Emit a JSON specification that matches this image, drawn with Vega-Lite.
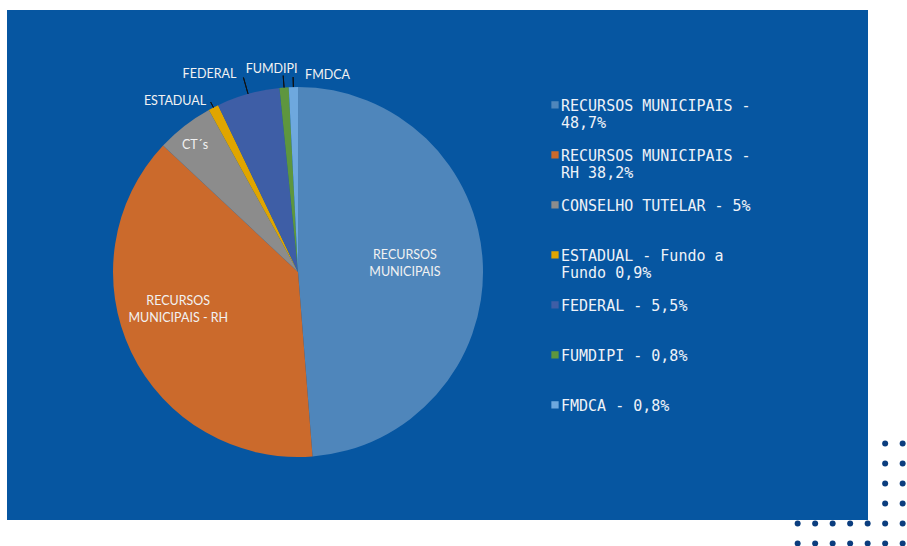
{
  "$schema": "https://vega.github.io/schema/vega-lite/v6.json",
  "width": 861,
  "height": 510,
  "padding": {"left": 7, "top": 10, "right": 39, "bottom": 26},
  "autosize": {"type": "none"},
  "background": "#ffffff",
  "config": {"view": {"fill": "#0656A1", "stroke": null}},
  "resolve": {"scale": {"x": "independent", "y": "independent"}},
  "layer": [
    {
      "data": {"values": [
        {"i": 1, "k": "MUN", "v": 48.7, "lg": "RECURSOS MUNICIPAIS -\n48,7%", "lbl": "RECURSOS\nMUNICIPAIS"},
        {"i": 2, "k": "RH", "v": 38.2, "lg": "RECURSOS MUNICIPAIS -\nRH 38,2%", "lbl": "RECURSOS\nMUNICIPAIS - RH"},
        {"i": 3, "k": "CT", "v": 5.0, "lg": "CONSELHO TUTELAR - 5%", "lbl": "CT´s"},
        {"i": 4, "k": "EST", "v": 0.9, "lg": "ESTADUAL - Fundo a\nFundo 0,9%", "lbl": "ESTADUAL"},
        {"i": 5, "k": "FED", "v": 5.5, "lg": "FEDERAL - 5,5%", "lbl": "FEDERAL"},
        {"i": 6, "k": "FUM", "v": 0.8, "lg": "FUMDIPI - 0,8%", "lbl": "FUMDIPI"},
        {"i": 7, "k": "FMD", "v": 0.8, "lg": "FMDCA - 0,8%", "lbl": "FMDCA"}
      ]},
      "encoding": {
        "theta": {"field": "v", "type": "quantitative", "stack": true},
        "order": {"field": "i", "type": "quantitative"},
        "x": {"datum": 0.338, "type": "quantitative", "scale": {"domain": [0, 1], "nice": false, "zero": false}, "axis": null},
        "y": {"datum": 0.5137, "type": "quantitative", "scale": {"domain": [0, 1], "nice": false, "zero": false, "reverse": true}, "axis": null}
      },
      "layer": [
        {
          "mark": {"type": "arc", "radius": 185},
          "encoding": {
            "color": {
              "field": "lg", "type": "nominal",
              "scale": {
                "domain": ["RECURSOS MUNICIPAIS -\n48,7%", "RECURSOS MUNICIPAIS -\nRH 38,2%", "CONSELHO TUTELAR - 5%", "ESTADUAL - Fundo a\nFundo 0,9%", "FEDERAL - 5,5%", "FUMDIPI - 0,8%", "FMDCA - 0,8%"],
                "range": ["#4F86BB", "#CB6A2C", "#8C8C8C", "#E0A500", "#3E5EA6", "#5E963E", "#6EA8DE"]
              },
              "legend": {
                "orient": "none", "legendX": 540.5, "legendY": 81, "title": null, "padding": 0,
                "symbolType": "M-1,0.75H1V2.75H-1Z", "symbolSize": 53, "symbolStrokeWidth": 0, "symbolOpacity": 1,
                "labelFont": "DejaVu Sans Mono", "labelFontSize": 15, "labelColor": "#EEF2F8",
                "labelBaseline": "top", "labelExpr": "split(datum.label, '\\n')", "labelLimit": 400, "labelOffset": -1.5,
                "rowPadding": 10, "gridAlign": "all"
              }
            }
          }
        },
        {
          "mark": {"type": "text", "radius": 107, "dy": -13, "align": "center", "baseline": "middle", "lineBreak": "\n", "lineHeight": 17.5, "font": "Lato", "fontSize": 12.5, "fill": "#F2F2F2"},
          "encoding": {"detail": {"field": "k"}, "text": {"condition": {"test": "datum.k == 'MUN'", "field": "lbl"}, "value": ""}}
        },
        {
          "mark": {"type": "text", "radius": 124, "dx": -8, "dy": -25, "align": "center", "baseline": "middle", "lineBreak": "\n", "lineHeight": 17.5, "font": "Lato", "fontSize": 12.5, "fill": "#F2F2F2"},
          "encoding": {"detail": {"field": "k"}, "text": {"condition": {"test": "datum.k == 'RH'", "field": "lbl"}, "value": ""}}
        },
        {
          "mark": {"type": "text", "radius": 163, "dx": -3, "dy": 2, "align": "center", "baseline": "middle", "font": "Lato", "fontSize": 12.5, "fill": "#F2F2F2"},
          "encoding": {"detail": {"field": "k"}, "text": {"condition": {"test": "datum.k == 'CT'", "field": "lbl"}, "value": ""}}
        },
        {
          "mark": {"type": "text", "radius": 192, "dx": -4, "align": "right", "baseline": "middle", "font": "Lato", "fontSize": 12.5, "fill": "#F2F2F2"},
          "encoding": {"detail": {"field": "k"}, "text": {"condition": {"test": "datum.k == 'EST'", "field": "lbl"}, "value": ""}}
        },
        {
          "mark": {"type": "text", "radius": 206, "dx": -6, "align": "right", "baseline": "middle", "font": "Lato", "fontSize": 12.5, "fill": "#F2F2F2"},
          "encoding": {"detail": {"field": "k"}, "text": {"condition": {"test": "datum.k == 'FED'", "field": "lbl"}, "value": ""}}
        },
        {
          "mark": {"type": "text", "radius": 204, "dx": -11, "align": "center", "baseline": "middle", "font": "Lato", "fontSize": 12.5, "fill": "#F2F2F2"},
          "encoding": {"detail": {"field": "k"}, "text": {"condition": {"test": "datum.k == 'FUM'", "field": "lbl"}, "value": ""}}
        },
        {
          "mark": {"type": "text", "radius": 197, "dx": 12, "align": "left", "baseline": "middle", "font": "Lato", "fontSize": 12.5, "fill": "#F2F2F2"},
          "encoding": {"detail": {"field": "k"}, "text": {"condition": {"test": "datum.k == 'FMD'", "field": "lbl"}, "value": ""}}
        },
        {
          "mark": {"type": "arc", "radius": 191, "radius2": 185, "padAngle": 0.6, "fillOpacity": 0, "stroke": "#111111", "strokeWidth": 1},
          "encoding": {"detail": {"field": "k"}, "strokeOpacity": {"condition": {"test": "datum.k == 'EST'", "value": 1}, "value": 0}}
        },
        {
          "mark": {"type": "arc", "radius": 202, "radius2": 185, "padAngle": 0.6, "fillOpacity": 0, "stroke": "#111111", "strokeWidth": 1},
          "encoding": {"detail": {"field": "k"}, "strokeOpacity": {"condition": {"test": "datum.k == 'FED'", "value": 1}, "value": 0}}
        },
        {
          "mark": {"type": "arc", "radius": 197, "radius2": 185, "padAngle": 0.6, "fillOpacity": 0, "stroke": "#111111", "strokeWidth": 1},
          "encoding": {"detail": {"field": "k"}, "strokeOpacity": {"condition": {"test": "datum.k == 'FUM'", "value": 1}, "value": 0}}
        },
        {
          "mark": {"type": "arc", "radius": 195, "radius2": 185, "padAngle": 0.6, "fillOpacity": 0, "stroke": "#111111", "strokeWidth": 1},
          "encoding": {"detail": {"field": "k"}, "strokeOpacity": {"condition": {"test": "datum.k == 'FMD'", "value": 1}, "value": 0}}
        }
      ]
    },
    {
      "data": {"values": [
        {"c": 5, "r": 0}, {"c": 6, "r": 0},
        {"c": 5, "r": 1}, {"c": 6, "r": 1},
        {"c": 5, "r": 2}, {"c": 6, "r": 2},
        {"c": 5, "r": 3}, {"c": 6, "r": 3},
        {"c": 0, "r": 4}, {"c": 1, "r": 4}, {"c": 2, "r": 4}, {"c": 3, "r": 4}, {"c": 4, "r": 4}, {"c": 5, "r": 4}, {"c": 6, "r": 4},
        {"c": 0, "r": 5}, {"c": 1, "r": 5}, {"c": 2, "r": 5}, {"c": 3, "r": 5}, {"c": 4, "r": 5}, {"c": 5, "r": 5}, {"c": 6, "r": 5}
      ]},
      "mark": {"type": "circle", "size": 36, "opacity": 1, "color": "#0B3D7E"},
      "encoding": {
        "x": {"field": "c", "type": "quantitative", "scale": {"domain": [-45.18, 4.02], "nice": false, "zero": false}, "axis": null},
        "y": {"field": "r", "type": "quantitative", "scale": {"domain": [-21.67, 3.83], "nice": false, "zero": false, "reverse": true}, "axis": null}
      }
    }
  ]
}
